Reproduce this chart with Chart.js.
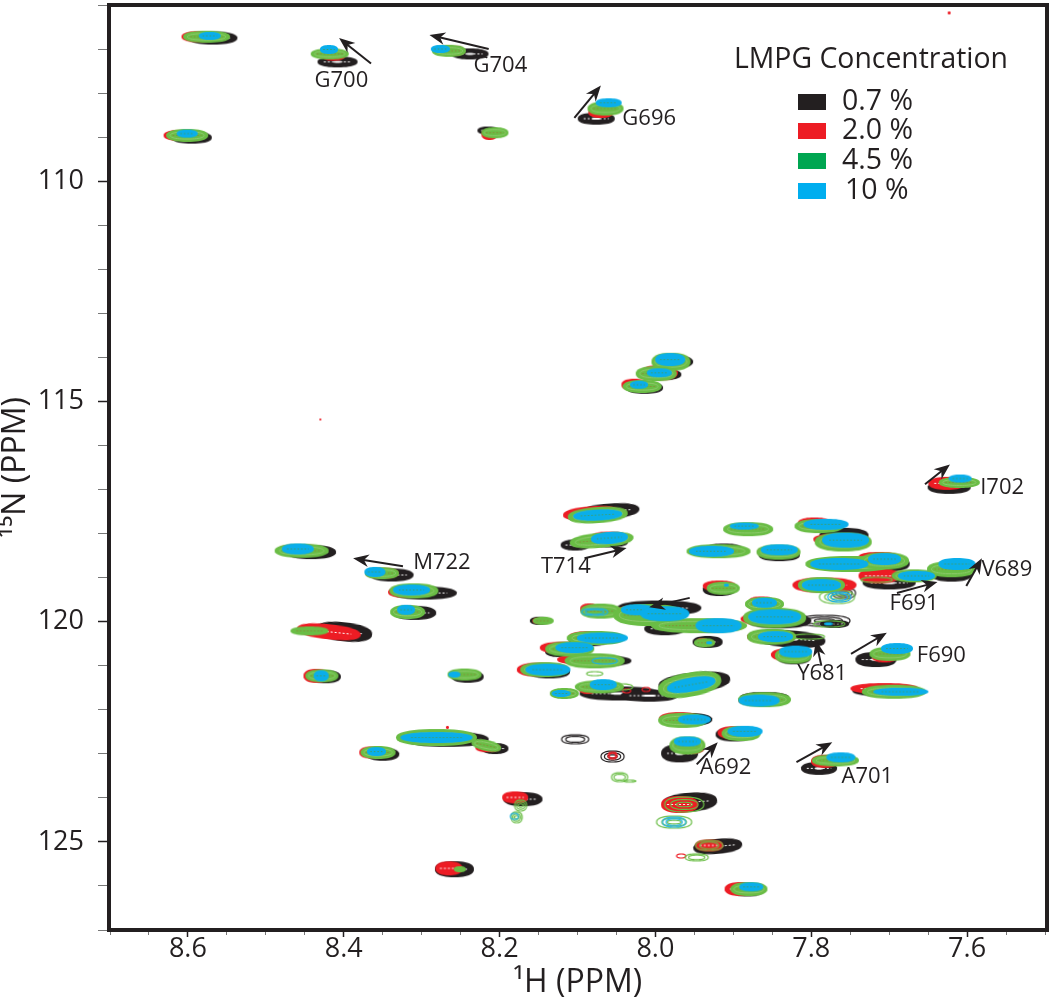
<!DOCTYPE html>
<html>
<head>
<meta charset="utf-8">
<title>LMPG titration HSQC</title>
<script src="https://cdn.jsdelivr.net/npm/chart.js@4/dist/chart.umd.min.js"></script>
<style>
html, body { margin: 0; padding: 0; background: #fff; }
#wrap { width: 1050px; height: 999px; }
</style>
</head>
<body>
<div id="wrap"><canvas id="chart" width="1050" height="999"></canvas></div>
<script>
// every peak: [1H ppm, 15N ppm, 1H linewidth ppm, 15N linewidth ppm, tilt deg]
const blackPeaks = [
    [8.568,106.75,.06,.24],[8.408,107.29,.049,.2],[8.238,107.11,.045,.2],[8.076,108.58,.045,.22],
    [8.595,109.01,.049,.23],[8.215,108.85,.025,.13],[8.442,118.42,.062,.27],[8.338,118.94,.053,.25],
    [8.296,119.35,.08,.25],[8.309,119.8,.052,.28],[8.4,120.23,.07,.38,6],[8.423,121.25,.036,.25],
    [8.241,121.25,.038,.22],[8.268,122.67,.105,.3],[8.206,122.88,.032,.2],[8.35,123.01,.04,.25],
    [8.17,124.03,.048,.28],[8.258,125.62,.048,.32],[7.956,124.1,.068,.38,-4],[7.92,125.1,.06,.3,-5],
    [7.882,126.09,.04,.25],[7.899,122.56,.045,.28],[7.969,122.99,.045,.36],[7.956,122.22,.055,.25],
    [8.059,117.49,.075,.3,-4],[8.103,118.26,.035,.2],[8.059,118.19,.045,.2],[7.871,117.9,.035,.2],
    [7.912,118.35,.045,.2],[7.841,118.49,.05,.22],[7.918,119.27,.04,.25],[7.995,119.69,.105,.3],
    [7.988,120.16,.05,.25],[7.933,120.46,.036,.22],[8.149,119.98,.022,.14],[8.085,120.41,.05,.25],
    [8.123,120.68,.035,.2],[8.072,120.89,.08,.2],[8.136,121.14,.05,.25],[8.046,121.63,.1,.28],
    [7.95,121.38,.09,.4,-6],[8.008,121.68,.07,.22],[7.86,121.72,.06,.2],[7.777,117.81,.03,.15],
    [7.758,118.04,.06,.3],[7.7,118.69,.05,.3],[7.7,119.12,.065,.25],[7.62,118.92,.05,.3],
    [7.79,119.19,.04,.2],[7.86,119.62,.04,.25],[7.841,119.98,.08,.3],[7.77,120.05,.035,.14],
    [7.828,120.39,.09,.35,4],[7.822,120.82,.04,.25],[7.717,120.86,.05,.3],[7.706,121.57,.08,.2],
    [7.79,123.33,.044,.26],[7.623,116.95,.052,.25],[7.976,114.1,.046,.25],[7.988,114.39,.04,.2],
    [8.014,114.69,.045,.23]
];
const redPeaks = [
    [8.587,106.72,.04,.2],[8.413,107.15,.027,.18],[8.258,107.04,.023,.18],[8.07,108.44,.03,.2],
    [8.61,108.96,.04,.2],[8.213,108.94,.018,.2],[8.456,118.38,.055,.23],[8.351,118.9,.04,.2],
    [8.322,119.33,.04,.2],[8.322,119.78,.03,.2],[8.419,120.23,.08,.3,6],[8.435,121.23,.031,.27],
    [8.251,121.2,.025,.15],[8.277,122.63,.09,.2],[8.215,122.86,.03,.17],[8.364,122.97,.03,.22],
    [8.18,123.99,.031,.22],[8.265,125.6,.032,.28],[7.969,124.15,.045,.35],[7.931,125.08,.033,.22],
    [7.89,126.07,.04,.28],[7.899,122.52,.04,.25],[7.956,122.88,.035,.2],[7.969,122.2,.05,.25],
    [8.082,117.54,.07,.27,-4],[8.059,118.08,.045,.2],[7.886,117.9,.04,.15],[7.928,118.4,.05,.2],
    [7.848,118.42,.04,.2],[7.918,119.19,.04,.2],[8.085,119.71,.02,.2],[8.021,119.8,.06,.3],
    [7.969,120.05,.05,.15],[7.94,120.44,.012,.1],[8.149,119.98,.015,.09],[8.085,120.34,.05,.2],
    [8.117,120.59,.06,.22],[8.085,120.86,.08,.2],[8.149,121.09,.055,.27],[8.087,121.52,.02,.2],
    [7.867,121.79,.05,.2],[7.796,117.76,.04,.2],[7.771,118.13,.05,.2],[7.713,118.53,.05,.18],
    [7.713,118.96,.05,.3],[7.626,118.81,.04,.18],[7.783,119.17,.08,.3],[7.864,119.53,.03,.15],
    [7.854,119.94,.07,.25],[7.851,120.34,.06,.25],[7.828,120.75,.045,.25],[7.706,120.8,.03,.2],
    [7.706,121.52,.085,.2],[7.783,123.17,.032,.25],[7.626,116.86,.045,.25],[7.985,114.05,.03,.2],
    [7.995,114.35,.045,.3],[8.027,114.62,.031,.22],
    [7.623,106.18,.004,.07],[8.43,115.41,.003,.05],[8.267,122.4,.004,.07]
];
const greenPeaks = [
    [8.576,106.72,.058,.23],[8.418,107.11,.046,.2],[8.265,107.04,.041,.23],[8.064,108.35,.044,.27],
    [8.601,108.96,.051,.25],[8.206,108.9,.032,.2],[8.454,118.39,.067,.27],[8.351,118.9,.041,.22],
    [8.31,119.3,.06,.3],[8.318,119.78,.042,.27],[8.444,120.21,.046,.17],[8.428,121.23,.04,.25],
    [8.245,121.2,.041,.22],[8.281,122.63,.102,.34],[8.217,122.81,.036,.2,12],[8.356,122.97,.042,.24],
    [8.251,125.62,.013,.09],[7.88,126.07,.045,.28],[7.89,122.54,.048,.3],[7.959,122.81,.043,.36],
    [7.965,122.24,.06,.3],[8.074,117.58,.075,.32,-4],[8.069,118.15,.08,.3,-5],[7.881,117.9,.062,.28],
    [7.919,118.4,.08,.27],[7.842,118.42,.054,.3],[7.913,119.24,.04,.25],[8.07,119.76,.05,.3],
    [8.008,119.85,.09,.45],[7.944,120.09,.12,.3],[7.937,120.48,.025,.15],[8.144,119.98,.024,.14],
    [8.076,120.37,.073,.28],[8.11,120.62,.06,.3],[8.078,120.89,.075,.3],[8.142,121.09,.06,.3],
    [7.956,121.43,.08,.5,-10],[8.117,121.63,.035,.2],[8.072,121.48,.06,.25],[7.86,121.77,.065,.3],
    [7.79,117.83,.06,.28],[7.759,118.19,.07,.38],[7.751,118.69,.11,.32],[7.706,118.62,.06,.35],
    [7.668,118.96,.055,.25],[7.62,118.81,.06,.32],[7.787,119.17,.058,.32],[7.86,119.6,.047,.28],
    [7.847,119.91,.078,.4],[7.851,120.34,.06,.32],[7.823,120.77,.045,.32],[7.699,120.73,.05,.27],
    [7.694,121.59,.08,.27],[7.769,123.15,.058,.22],[7.61,116.84,.05,.2],[7.98,114.1,.048,.36],
    [7.999,114.37,.05,.3],[8.017,114.66,.047,.26]
];
const bluePeaks = [
    [8.572,106.7,.026,.14],[8.419,107.01,.02,.16],[8.276,107.0,.022,.14],[8.06,108.22,.031,.16],
    [8.601,108.92,.025,.14],[8.459,118.35,.038,.2],[8.36,118.87,.024,.18],[8.313,119.28,.045,.2],
    [8.32,119.73,.02,.18],[8.429,121.23,.017,.2],[8.258,121.2,.013,.1],[8.281,122.63,.09,.2],
    [8.358,122.95,.022,.16],[7.877,126.02,.028,.16],[7.885,122.49,.042,.2],[7.959,122.72,.032,.18],
    [7.95,122.22,.04,.18],[8.074,117.58,.06,.2,-3],[8.059,118.1,.045,.22,-4],[7.886,117.83,.035,.12],
    [7.928,118.4,.055,.2],[7.841,118.37,.045,.2],[7.909,119.17,.006,.06],[8.023,119.73,.04,.2],
    [7.988,119.82,.06,.3],[7.919,120.09,.057,.3],[7.931,120.48,.008,.06],[8.068,120.37,.063,.2],
    [8.104,120.59,.046,.2],[8.138,121.09,.055,.22],[7.954,121.43,.06,.28,-10],[8.121,121.63,.022,.12],
    [8.067,121.43,.032,.2],[7.867,121.79,.05,.22],[7.781,117.79,.055,.2],[7.756,118.15,.058,.3],
    [7.764,118.69,.072,.22],[7.706,118.58,.04,.22],[7.665,118.96,.045,.18],[7.613,118.69,.045,.22],
    [7.787,119.17,.048,.22],[7.86,119.57,.03,.18],[7.847,119.89,.065,.3],[7.778,120.05,.012,.06],
    [7.846,120.34,.042,.2],[7.82,120.68,.04,.22],[7.69,120.61,.038,.2],[7.685,121.59,.068,.14],
    [7.762,123.08,.035,.18],[7.609,116.75,.027,.14],[7.981,114.05,.036,.24],[7.995,114.35,.03,.16],
    [8.021,114.62,.02,.14]
];
// contour-only peaks, no solid core
const blackRings = [[8.103,122.67,.035,.2],[8.055,123.06,.03,.25],[7.758,119.35,.03,.25],[7.783,119.98,.065,.25]];
const redRings = [[8.055,123.04,.012,.16],[7.967,125.32,.011,.1],[8.037,121.57,.01,.08],[8.012,121.54,.01,.08]];
const greenRings = [
    [8.173,124.17,.015,.25],[8.178,124.44,.014,.25],[8.046,123.53,.02,.2],[8.033,123.62,.015,.05],
    [7.963,124.15,.05,.35],[7.976,124.55,.045,.27],[7.931,125.08,.035,.22],[7.947,125.35,.03,.15],
    [8.078,121.18,.02,.1],[8.044,121.48,.03,.14],[7.767,119.44,.045,.3],[7.777,120.05,.04,.14],
    [7.803,120.34,.04,.12],[7.716,119.05,.04,.12]
];
const blueRings = [[8.181,124.42,.01,.14],[7.976,124.55,.03,.22],[7.764,119.44,.03,.22],[8.078,119.78,.034,.16],[8.065,120.89,.032,.13]];

const xTickLabels = [8.6, 8.4, 8.2, 8.0, 7.8, 7.6];
const yTickLabels = [110, 115, 120, 125];
const legendLabels = ['0.7 %', '2.0 %', '4.5 %', '10 %'];
const legendColors = ['#231f20', '#ed1c24', '#00a651', '#00aeef'];
// residue name, 1H, 15N of the label centre
const residueLabels = [
    ['G700',8.403,107.72],['G704',8.199,107.38],['G696',8.008,108.58],['M722',8.274,118.67],
    ['T714',8.115,118.76],['I702',7.555,116.95],['V689',7.549,118.83],['F691',7.668,119.6],
    ['F690',7.633,120.77],['Y681',7.786,121.18],['A692',7.91,123.31],['A701',7.728,123.53]
];
// 1H, 15N of tail then 1H, 15N of head
const shiftArrows = [
    [8.365,107.33,8.406,106.75],[8.214,107.0,8.29,106.68],[8.104,108.56,8.07,107.83],
    [8.324,118.74,8.388,118.56],[8.091,118.56,8.037,118.33],[7.956,119.46,8.008,119.67],
    [7.654,116.88,7.622,116.43],[7.601,119.19,7.581,118.56],[7.69,119.35,7.638,119.1],
    [7.749,120.73,7.703,120.25],[7.787,121.0,7.794,120.43],[7.947,123.24,7.92,122.74],
    [7.819,123.19,7.773,122.74]
];

const FONT = '"Open Sans", sans-serif';
const INK = '#231f20';
const GREEN = '#6abd45';

const spriteCache = {};
function getSprite(kind, w, h) {
    const key = kind + w + 'x' + h;
    if (spriteCache[key]) return spriteCache[key];
    const c = document.createElement('canvas');
    c.width = w + 6;
    c.height = h + 6;
    const g = c.getContext('2d');
    const cx = c.width / 2, cy = c.height / 2, rx = w / 2, ry = h / 2;
    // contours are a bit fuller than a plain ellipse
    const blob = (a, b) => {
        a = Math.max(a, .5);
        b = Math.max(b, .5);
        g.beginPath();
        for (let i = 0; i < 48; i++) {
            const t = i / 48 * Math.PI * 2, ct = Math.cos(t), st = Math.sin(t);
            const px = cx + a * Math.sign(ct) * Math.pow(Math.abs(ct), .86);
            const py = cy + b * Math.sign(st) * Math.pow(Math.abs(st), .86);
            if (i === 0) g.moveTo(px, py); else g.lineTo(px, py);
        }
        g.closePath();
    };
    if (kind.endsWith('Ring')) {
        g.strokeStyle = { blackRing: INK, redRing: '#ed1c24', greenRing: GREEN, blueRing: '#1cb0e6' }[kind];
        g.lineWidth = 1.2;
        blob(rx, ry); g.stroke();
        if (h > 6) { blob(rx * .7, ry * .65); g.stroke(); }
        if (h > 10) { blob(rx * .4, ry * .3); g.stroke(); }
    } else {
        const fill = { black: INK, red: '#ed1c24', green: GREEN, blue: '#0aaeea' }[kind];
        const mark = { black: '#fff', red: '#fff', green: '#8a8a3a', blue: '#3f9f6a' }[kind];
        const grow = h > 3 ? 1 : 0;
        g.fillStyle = fill;
        blob(rx + grow, ry + grow); g.fill();
        // inner contour levels
        g.strokeStyle = mark;
        g.lineWidth = 1;
        if (h > 4 && w > 10) {
            g.setLineDash(kind === 'black' || kind === 'red' ? [2, 2] : [1.5, 2]);
            g.beginPath();
            g.moveTo(cx - rx * .72, cy);
            g.lineTo(cx + rx * .72, cy);
            g.stroke();
            g.setLineDash([]);
            if (kind === 'green' && h > 8) {
                g.strokeStyle = '#8fcb6e';
                blob(rx * .85, ry * .65); g.stroke();
            }
            if (kind === 'black' && h > 8) { g.fillStyle = '#fff'; blob(rx * .25, ry * .22); g.fill(); }
        }
    }
    spriteCache[key] = c;
    return c;
}

function peakSet(label, peaks, kind) {
    return {
        label: label,
        data: peaks.map(p => ({ x: p[0], y: p[1], dx: p[2], dy: p[3], tilt: p[4] || 0 })),
        pointStyle: ctx => {
            const sx = ctx.chart.scales.x, sy = ctx.chart.scales.y, p = ctx.raw;
            const w = Math.max(2, Math.round(Math.abs(sx.getPixelForValue(p.x + p.dx) - sx.getPixelForValue(p.x))));
            const h = Math.max(2, Math.round(Math.abs(sy.getPixelForValue(p.y + p.dy) - sy.getPixelForValue(p.y))));
            return getSprite(kind, w, h);
        },
        rotation: ctx => ctx.raw.tilt,
        showLine: false
    };
}

const frameAndNotes = {
    id: 'frameAndNotes',
    afterDraw(chart) {
        const c = chart.ctx, a = chart.chartArea, sx = chart.scales.x, sy = chart.scales.y;
        c.save();
        // arrows
        shiftArrows.forEach(r => {
            const x0 = sx.getPixelForValue(r[0]), y0 = sy.getPixelForValue(r[1]);
            const x1 = sx.getPixelForValue(r[2]), y1 = sy.getPixelForValue(r[3]);
            const t = Math.atan2(y1 - y0, x1 - x0);
            c.strokeStyle = INK;
            c.fillStyle = INK;
            c.lineWidth = 2;
            c.beginPath();
            c.moveTo(x0, y0);
            c.lineTo(x1 - 9 * Math.cos(t), y1 - 9 * Math.sin(t));
            c.stroke();
            c.beginPath();
            c.moveTo(x1, y1);
            c.lineTo(x1 - 17 * Math.cos(t - .38), y1 - 17 * Math.sin(t - .38));
            c.lineTo(x1 - 11 * Math.cos(t), y1 - 11 * Math.sin(t));
            c.lineTo(x1 - 17 * Math.cos(t + .38), y1 - 17 * Math.sin(t + .38));
            c.closePath();
            c.fill();
        });
        // residue names
        c.fillStyle = INK;
        c.textAlign = 'center';
        c.textBaseline = 'middle';
        c.font = '22px ' + FONT;
        residueLabels.forEach(l => c.fillText(l[0], sx.getPixelForValue(l[1]), sy.getPixelForValue(l[2])));
        // legend
        c.font = '28.4px ' + FONT;
        c.fillText('LMPG Concentration', 871, 60);
        c.textAlign = 'left';
        c.font = '28.5px ' + FONT;
        const rows = [102, 131, 161, 191];
        legendLabels.forEach((t, i) => {
            c.fillStyle = legendColors[i];
            c.fillRect(798, rows[i] - 8, 28, 16);
            c.fillStyle = INK;
            c.fillText(t, i === 3 ? 845 : 842, rows[i]);
        });
        // thick frame
        c.strokeStyle = INK;
        c.lineWidth = 4;
        c.strokeRect(a.left - 1, a.top, a.width + 3, a.height);
        c.restore();
    }
};

function isLabelled(list, v) {
    return list.some(t => Math.abs(t - v) < 1e-6);
}

function noScalePadding(s) {
    s.paddingLeft = 0;
    s.paddingRight = 0;
    s.paddingTop = 0;
    s.paddingBottom = 0;
}

new Chart(document.getElementById('chart'), {
    type: 'scatter',
    data: {
        datasets: [
            peakSet('0.7 %', blackPeaks, 'black'),
            peakSet('0.7 % contours', blackRings, 'blackRing'),
            peakSet('2.0 %', redPeaks, 'red'),
            peakSet('2.0 % contours', redRings, 'redRing'),
            peakSet('4.5 %', greenPeaks, 'green'),
            peakSet('4.5 % contours', greenRings, 'greenRing'),
            peakSet('10 %', bluePeaks, 'blue'),
            peakSet('10 % contours', blueRings, 'blueRing')
        ].reverse()
    },
    plugins: [frameAndNotes],
    options: {
        responsive: false,
        animation: false,
        events: [],
        layout: { padding: { top: 2, right: 4, left: 0, bottom: 0 } },
        plugins: { legend: { display: false }, tooltip: { enabled: false } },
        scales: {
            x: {
                type: 'linear',
                reverse: true,
                min: 7.5,
                max: 8.7,
                afterFit: s => { s.height = 69; noScalePadding(s); },
                border: { display: false },
                grid: {
                    drawOnChartArea: false,
                    tickLength: 7,
                    tickColor: ctx => isLabelled(xTickLabels, ctx.tick.value) ? INK : '#777',
                    tickWidth: ctx => isLabelled(xTickLabels, ctx.tick.value) ? 1.5 : 1,
                    tickBorderDash: ctx => isLabelled(xTickLabels, ctx.tick.value) ? [] : [5, 99]
                },
                ticks: {
                    stepSize: 0.05,
                    autoSkip: false,
                    maxRotation: 0,
                    padding: -4,
                    color: INK,
                    font: { family: FONT, size: 27 },
                    callback: v => isLabelled(xTickLabels, v) ? v.toFixed(1) : ''
                },
                title: { display: true, text: '¹H (PPM)', color: INK, font: { family: FONT, size: 32, lineHeight: 1 }, padding: 0 }
            },
            y: {
                type: 'linear',
                reverse: true,
                min: 106,
                max: 127,
                afterFit: s => { s.width = 110; noScalePadding(s); },
                border: { display: false },
                grid: {
                    drawOnChartArea: false,
                    tickLength: 12,
                    tickColor: ctx => isLabelled(yTickLabels, ctx.tick.value) ? INK : '#777',
                    tickWidth: ctx => isLabelled(yTickLabels, ctx.tick.value) ? 1.5 : 1,
                    tickBorderDash: ctx => isLabelled(yTickLabels, ctx.tick.value) ? [] : [9, 99]
                },
                ticks: {
                    stepSize: 1,
                    autoSkip: false,
                    padding: 14,
                    color: INK,
                    font: { family: FONT, size: 27 },
                    callback: v => isLabelled(yTickLabels, v) ? String(v) : ''
                },
                title: { display: true, text: '¹⁵N (PPM)', color: INK, font: { family: FONT, size: 32, lineHeight: 1 }, padding: 0 }
            }
        }
    }
});
</script>
</body>
</html>
